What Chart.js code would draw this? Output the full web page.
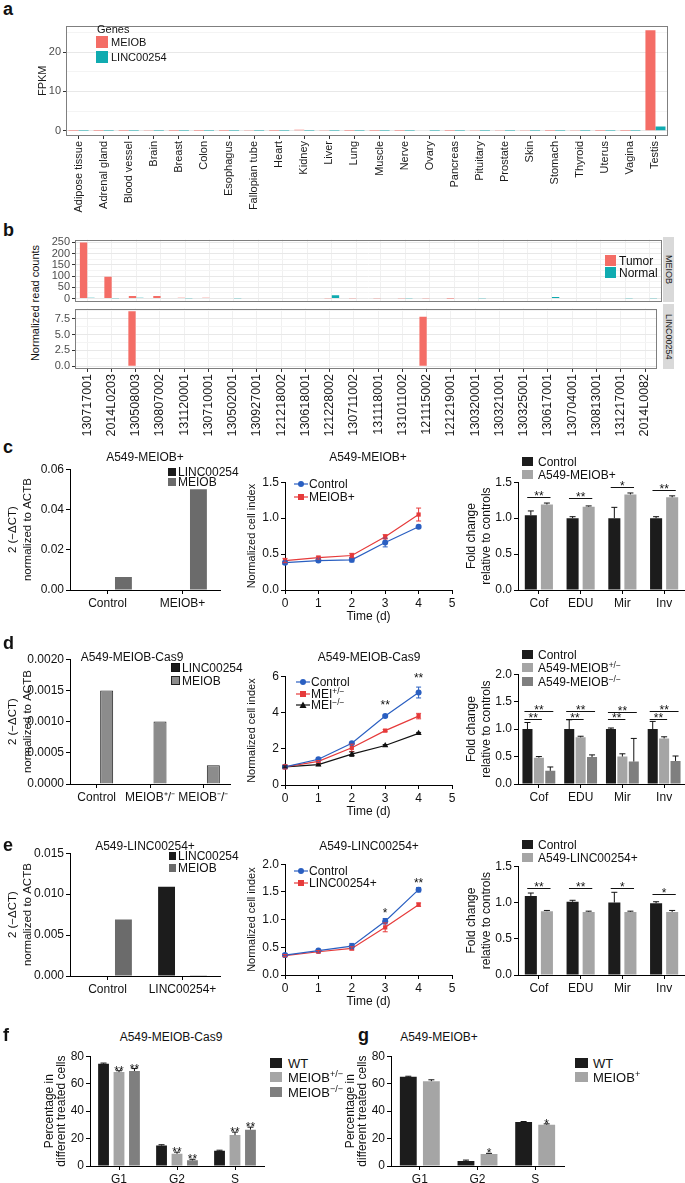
<!DOCTYPE html>
<html>
<head>
<meta charset="utf-8">
<title>MEIOB / LINC00254</title>
<script src="https://cdn.jsdelivr.net/npm/chart.js@4.4.1/dist/chart.umd.min.js"></script>
<style>
  html, body { margin: 0; padding: 0; background: #fff; }
  #fig { position: relative; width: 685px; height: 1183px; overflow: hidden; color: #111;
         font-family: "Liberation Sans Narrow", "Liberation Sans", Arial, sans-serif; }
  #fig canvas { position: absolute; }
  .lab { position: absolute; white-space: nowrap; line-height: 1; }
  .lab sup { font-size: 70%; vertical-align: 0.45em; line-height: 0; }
  .sw { position: absolute; box-sizing: border-box; }
  .strip { position: absolute; background: #d9d9d9; display: flex; align-items: center; justify-content: center;
           writing-mode: vertical-rl; font: 9px "Liberation Sans", Arial, sans-serif; color: #1a1a1a; }
</style>
</head>
<body>
<div id="fig"></div>
<script>
// ---- data ---------------------------------------------------------------
// a: expression across tissues
const tissues = ['Adipose tissue', 'Adrenal gland', 'Blood vessel', 'Brain', 'Breast', 'Colon', 'Esophagus',
  'Fallopian tube', 'Heart', 'Kidney', 'Liver', 'Lung', 'Muscle', 'Nerve', 'Ovary', 'Pancreas', 'Pituitary',
  'Prostate', 'Skin', 'Stomach', 'Thyroid', 'Uterus', 'Vagina', 'Testis'];
const fpkmMEIOB = [0.05, 0.05, 0.04, 0.2, 0.05, 0.05, 0.04, 0.1, 0.05, 0.3, 0.12, 0.05, 0.04, 0.05, 0.18, 0.04,
  0.22, 0.1, 0.2, 0.04, 0.08, 0.05, 0.05, 25.5];
const fpkmLINC = [0.02, 0.02, 0.02, 0.03, 0.02, 0.02, 0.02, 0.03, 0.02, 0.03, 0.02, 0.02, 0.02, 0.02, 0.03, 0.02,
  0.03, 0.02, 0.02, 0.02, 0.02, 0.02, 0.02, 1.1];
const aTicks = [0, 5, 10, 15, 20, 25];

// b: read counts per patient sample
const samples = ['130717001', '2014L0203', '130508003', '130807002', '131120001', '130710001', '130502001',
  '130927001', '121218002', '130618001', '121228002', '130711002', '131118001', '131011002', '121115002',
  '121219001', '130320001', '130321001', '130325001', '130617001', '130704001', '130813001', '131217001', '2014L0082'];
const meiobTumor = [250, 97, 11, 11, 4, 4, 3, 3, 3, 3, 2, 1, 1, 1, 1, 0.5, 0, 0, 0, 0, 0, 0, 0, 0];
const meiobNormal = [4, 1, 4, 0, 2, 0, 2, 0, 3, 3, 15, 0, 0, 2, 3, 3, 2, 0, 0, 7, 0, 0, 1, 1];
const lincTumor = [0, 0, 8.65, 0, 0, 0, 0, 0, 0, 0, 0, 0, 0, 0, 7.8, 0, 0, 0, 0, 0, 0, 0, 0, 0];
const lincNormal = [0, 0, 0, 0, 0, 0, 0, 0, 0, 0, 0, 0, 0, 0, 0, 0, 0, 0, 0, 0, 0, 0, 0, 0];
const bUpperTicks = [0, 25, 50, 75, 100, 125, 150, 175, 200, 225, 250];
const bLowerTicks = [0, 1.25, 2.5, 3.75, 5, 6.25, 7.5, 8.75];

// c-e shared
const days = [0, 1, 2, 3, 4];
const assays = ['Cof', 'EDU', 'Mir', 'Inv'];

// c: A549-MEIOB+
const cQpcrCats = ['Control', 'MEIOB+'];
const cQpcrLINC = [0, 0];
const cQpcrMEIOB = [0.0065, 0.05];
const cCtrl = [0.38, 0.41, 0.42, 0.66, 0.88];
const cCtrlErr = [0.02, 0.02, 0.03, 0.06, 0.02];
const cMeiob = [0.41, 0.45, 0.48, 0.74, 1.05];
const cMeiobErr = [0.03, 0.02, 0.03, 0.03, 0.09];
const cFoldCtrl = [1.04, 1.0, 1.0, 1.0];
const cFoldCtrlErr = [0.06, 0.02, 0.15, 0.02];
const cFoldMeiob = [1.19, 1.16, 1.33, 1.29];
const cFoldMeiobErr = [0.02, 0.01, 0.02, 0.02];
const cSigText = ['**', '**', '*', '**'];
const cSigY = [1.3, 1.28, 1.43, 1.39];

// d: A549-MEIOB-Cas9
const dQpcrCats = ['Control', 'MEIOB\u207A/\u207B', 'MEIOB\u207B/\u207B'];
const dQpcrLINC = [0, 0, 0];
const dQpcrMEIOB = [0.0015, 0.0010, 0.0003];
const dCtrl = [1.0, 1.42, 2.3, 3.8, 5.1];
const dCtrlErr = [0.05, 0.05, 0.05, 0.06, 0.3];
const dHet = [1.0, 1.3, 2.05, 3.0, 3.8];
const dHetErr = [0.12, 0.05, 0.2, 0.06, 0.15];
const dKo = [1.0, 1.12, 1.7, 2.18, 2.85];
const dKoErr = [0.05, 0.05, 0.12, 0.05, 0.05];
const dStarDays = [3, 4];
const dStarY = [4.4, 5.9];
const dStarText = ['**', '**'];
const dFoldCtrl = [1.0, 1.0, 1.0, 1.0];
const dFoldCtrlErr = [0.12, 0.17, 0.02, 0.14];
const dFoldHet = [0.48, 0.85, 0.5, 0.83];
const dFoldHetErr = [0.02, 0.02, 0.05, 0.03];
const dFoldKo = [0.24, 0.49, 0.41, 0.42];
const dFoldKoErr = [0.07, 0.04, 0.42, 0.09];
const dSigHiY = [1.33, 1.33, 1.32, 1.33];
const dSigLoY = [1.18, 1.18, 1.18, 1.18];

// e: A549-LINC00254+
const eQpcrCats = ['Control', 'LINC00254+'];
const eQpcrLINC = [0, 0.0109];
const eQpcrMEIOB = [0.0069, 0.0001];
const eCtrl = [0.36, 0.44, 0.52, 0.97, 1.54];
const eCtrlErr = [0.02, 0.02, 0.05, 0.05, 0.04];
const eLinc = [0.35, 0.42, 0.48, 0.86, 1.27];
const eLincErr = [0.02, 0.02, 0.03, 0.08, 0.03];
const eStarDays = [3, 4];
const eStarY = [1.12, 1.66];
const eStarText = ['*', '**'];
const eFoldCtrl = [1.09, 1.01, 1.0, 0.99];
const eFoldCtrlErr = [0.04, 0.02, 0.14, 0.02];
const eFoldLinc = [0.88, 0.87, 0.87, 0.87];
const eFoldLincErr = [0.01, 0.01, 0.01, 0.02];
const eSigText = ['**', '**', '*', '*'];
const eSigY = [1.2, 1.2, 1.2, 1.12];

// f, g: cell cycle
const phases = ['G1', 'G2', 'S'];
const fWT = [74.5, 14.9, 11.2];
const fWTErr = [0.5, 0.6, 0.3];
const fHet = [68.4, 8.9, 22.5];
const fHetErr = [1.0, 1.2, 2.2];
const fKo = [69.2, 4.1, 26.5];
const fKoErr = [1.8, 0.8, 1.8];
const fHetStars = ['**', '**', '**'];
const fKoStars = ['**', '**', '**'];
const gWT = [65, 3.6, 32.1];
const gWTErr = [0.4, 0.7, 0.3];
const gPlus = [61.8, 8.8, 30.1];
const gPlusErr = [1.0, 0.4, 0.6];
const gPlusStars = ['', '*', '*'];

// ---- style --------------------------------------------------------------
const NARROW = '"Liberation Sans Narrow", "Liberation Sans", Arial, sans-serif';
const SANS = '"Liberation Sans", Arial, sans-serif';
const RED = '#f46d66', TEAL = '#10abb0';
const BLUE = '#2a5fc1', REDL = '#e63a3a';
const BLACK = '#1c1c1c', GREY_D = '#6b6b6b', GREY_L = '#a5a5a5', GREY_M = '#7f7f7f', GREY_Q = '#8c8c8c';

Chart.defaults.animation = false;
Chart.defaults.responsive = false;
Chart.defaults.devicePixelRatio = 1;
Chart.defaults.plugins.legend.display = false;
Chart.defaults.plugins.tooltip.enabled = false;
Chart.defaults.font.family = NARROW;
Chart.defaults.color = '#111';

// error bars + stars over single marks
const errBars = {
    id: 'errBars',
    afterDatasetsDraw(chart) {
        const ctx = chart.ctx, ys = chart.scales.y;
        chart.data.datasets.forEach((ds, i) => {
            if (!ds.errs && !ds.stars) return;
            const meta = chart.getDatasetMeta(i);
            ctx.save();
            meta.data.forEach((el, j) => {
                const d = ds.data[j];
                const v = typeof d === 'object' ? d.y : d;
                const e = ds.errs ? ds.errs[j] : 0;
                const top = ys.getPixelForValue(v + e);
                const bot = ds.errBoth ? ys.getPixelForValue(v - e) : ys.getPixelForValue(v);
                const cap = ds.cap || 3;
                if (e > 0) {
                    ctx.strokeStyle = ds.errColor || '#111';
                    ctx.lineWidth = 1;
                    ctx.beginPath();
                    ctx.moveTo(el.x, bot); ctx.lineTo(el.x, top);
                    ctx.moveTo(el.x - cap, top); ctx.lineTo(el.x + cap, top);
                    if (ds.errBoth) { ctx.moveTo(el.x - cap, bot); ctx.lineTo(el.x + cap, bot); }
                    ctx.stroke();
                }
                if (ds.stars && ds.stars[j]) {
                    ctx.fillStyle = '#111';
                    ctx.font = '12px ' + SANS;
                    ctx.textAlign = 'center';
                    ctx.textBaseline = 'alphabetic';
                    ctx.fillText(ds.stars[j], el.x, top + 4);
                }
            });
            ctx.restore();
        });
    }
};
Chart.register(errBars);

// significance bar between two grouped bars
function sigLines(items) {
    return {
        id: 'sig',
        afterDatasetsDraw(chart) {
            const ctx = chart.ctx, ys = chart.scales.y;
            ctx.save();
            ctx.strokeStyle = '#111';
            ctx.fillStyle = '#111';
            ctx.lineWidth = 1;
            ctx.font = '12px ' + SANS;
            ctx.textAlign = 'center';
            items.forEach(s => {
                const a = chart.getDatasetMeta(s.a).data[s.i];
                const b = chart.getDatasetMeta(s.b).data[s.i];
                const y = Math.round(ys.getPixelForValue(s.y)) + 0.5;
                ctx.beginPath();
                ctx.moveTo(a.x - a.width * 0.3, y);
                ctx.lineTo(b.x + b.width * 0.3, y);
                ctx.stroke();
                ctx.fillText(s.t, (a.x + b.x) / 2, y + 2);
            });
            ctx.restore();
        }
    };
}

// star notes at data positions on the growth curves
function notes(xs, ys, ts) {
    return {
        id: 'notes',
        afterDatasetsDraw(chart) {
            const ctx = chart.ctx;
            ctx.save();
            ctx.fillStyle = '#111';
            ctx.font = '12px ' + SANS;
            ctx.textAlign = 'center';
            xs.forEach((x, i) => {
                ctx.fillText(ts[i], chart.scales.x.getPixelForValue(x), chart.scales.y.getPixelForValue(ys[i]) + 4);
            });
            ctx.restore();
        }
    };
}

// ggplot-like panel border
const panelBox = {
    id: 'panelBox',
    afterDraw(chart) {
        const {left, top, right, bottom} = chart.chartArea;
        const ctx = chart.ctx;
        ctx.save();
        ctx.strokeStyle = '#7f7f7f';
        ctx.lineWidth = 1;
        ctx.strokeRect(Math.round(left) + 0.5, Math.round(top) + 0.5, Math.round(right - left) - 1, Math.round(bottom - top) - 1);
        ctx.restore();
    }
};

const fig = document.getElementById('fig');

function mk(L, config) {
    const c = document.createElement('canvas');
    const w = L.x1 - L.x0 + L.yW + L.pr;
    const h = L.y1 - L.y0 + L.pt + L.xH;
    c.width = w; c.height = h;
    Object.assign(c.style, {left: (L.x0 - L.yW) + 'px', top: (L.y0 - L.pt) + 'px', width: w + 'px', height: h + 'px'});
    fig.appendChild(c);
    const o = config.options;
    o.layout = {padding: {top: L.pt, right: L.pr, bottom: 0, left: 0}};
    o.scales.x.afterFit = s => { s.height = L.xH; };
    o.scales.y.afterFit = s => { s.width = L.yW; };
    return new Chart(c, config);
}

function ggX(show, vgrid, size) {
    return {
        border: {display: false},
        grid: {display: true, drawOnChartArea: !!vgrid, drawTicks: show, tickLength: 3, color: '#f0f0f0', tickColor: '#333', offset: false},
        ticks: {display: show, autoSkip: false, minRotation: 90, maxRotation: 90, padding: 2, color: '#1a1a1a',
                font: {family: SANS, size: size || 11}}
    };
}

// ticks are given explicitly; every other one is a labelled major break
function ggY(min, max, tickValues, every, dec, title) {
    const major = v => Math.abs(v / every - Math.round(v / every)) < 1e-6;
    return {
        min, max,
        afterBuildTicks: s => { s.ticks = tickValues.map(v => ({value: v})); },
        border: {display: false},
        grid: {color: c => major(c.tick.value) ? '#e8e8e8' : '#f4f4f4',
               tickColor: c => major(c.tick.value) ? '#333' : 'rgba(0,0,0,0)', tickLength: 3},
        ticks: {autoSkip: false, padding: 2, color: '#4d4d4d',
                font: {family: SANS, size: 11}, callback: v => major(v) ? v.toFixed(dec) : ''},
        title: title ? {display: true, text: title, color: '#1a1a1a', font: {family: SANS, size: 11}, padding: {top: 6.5, bottom: 0}} : {display: false}
    };
}

function prismY(min, max, step, dec, title, o) {
    o = o || {};
    return {
        min, max,
        border: {display: true, color: '#000', width: 1},
        grid: {drawOnChartArea: false, drawTicks: true, tickLength: 4, color: '#000'},
        ticks: {stepSize: step, includeBounds: false, autoSkip: false, padding: 2, color: '#111',
                font: {family: NARROW, size: 12}, callback: v => v.toFixed(dec)},
        title: {display: true, text: title, color: '#111', font: {family: SANS, size: o.size || 11, lineHeight: o.lh || 1.2},
                padding: {top: o.pad || 0, bottom: 0}}
    };
}

function prismCat() {
    return {
        border: {display: true, color: '#000', width: 1},
        grid: {drawOnChartArea: false, drawTicks: true, tickLength: 4, color: '#000', offset: false},
        ticks: {autoSkip: false, maxRotation: 0, padding: 2, color: '#111', font: {family: NARROW, size: 12}}
    };
}

function prismTime() {
    return {
        type: 'linear', min: 0, max: 5,
        border: {display: true, color: '#000', width: 1},
        grid: {drawOnChartArea: false, drawTicks: true, tickLength: 4, color: '#000'},
        ticks: {stepSize: 1, includeBounds: false, padding: 2, color: '#111', font: {family: NARROW, size: 12}, callback: v => v.toFixed(0)},
        title: {display: true, text: 'Time (d)', color: '#111', font: {family: NARROW, size: 12}, padding: {top: 0, bottom: 2}}
    };
}

function bar(label, data, color, errs, extra) {
    return Object.assign({label, data, backgroundColor: color, borderWidth: 0, errs, cap: 3}, extra || {});
}

function curve(label, ys, errs, color, style) {
    return {
        label, data: days.map((d, i) => ({x: d, y: ys[i]})), errs, errBoth: true, errColor: color, cap: 2.5,
        borderColor: color, backgroundColor: color, borderWidth: 1.2, pointStyle: style,
        pointRadius: style === 'triangle' ? 3.5 : 3, pointBorderWidth: 0, clip: false
    };
}

const QPCR_TITLE = ['2 (\u2212\u0394CT)', 'normalized to ACTB'];
const FOLD_TITLE = ['Fold change', 'relative to controls'];
const PCT_TITLE = ['Percentage in', 'different treated cells'];

// ---- a ------------------------------------------------------------------
mk({x0: 66, x1: 668, y0: 21, y1: 136, yW: 36, xH: 80, pt: 4, pr: 4}, {
    type: 'bar',
    data: {labels: tissues, datasets: [
        bar('MEIOB', fpkmMEIOB, RED),
        bar('LINC00254', fpkmLINC, TEAL)]},
    options: {
        datasets: {bar: {categoryPercentage: 0.8, barPercentage: 1}},
        scales: {x: ggX(true, false), y: ggY(-1.3, 26.7, aTicks, 10, 0, 'FPKM')}
    },
    plugins: [panelBox]
});

// ---- b ------------------------------------------------------------------
mk({x0: 75, x1: 662, y0: 237, y1: 302, yW: 25, xH: 8, pt: 6, pr: 0}, {
    type: 'bar',
    data: {labels: samples, datasets: [
        bar('Tumor', meiobTumor, RED),
        bar('Normal', meiobNormal, TEAL)]},
    options: {
        datasets: {bar: {categoryPercentage: 0.6, barPercentage: 1}},
        scales: {x: ggX(false, true), y: ggY(-12.5, 262.5, bUpperTicks, 50, 0)}
    },
    plugins: [panelBox]
});
mk({x0: 75, x1: 662, y0: 304, y1: 369, yW: 25, xH: 72, pt: 4, pr: 0}, {
    type: 'bar',
    data: {labels: samples, datasets: [
        bar('Tumor', lincTumor, RED),
        bar('Normal', lincNormal, TEAL)]},
    options: {
        datasets: {bar: {categoryPercentage: 0.6, barPercentage: 1}},
        scales: {x: ggX(true, true, 12.5), y: ggY(-0.43, 9.08, bLowerTicks, 2.5, 1)}
    },
    plugins: [panelBox]
});

// ---- c ------------------------------------------------------------------
mk({x0: 70, x1: 220, y0: 468, y1: 590, yW: 70, xH: 22, pt: 8, pr: 4}, {
    type: 'bar',
    data: {labels: cQpcrCats, datasets: [
        bar('LINC00254', cQpcrLINC, BLACK),
        bar('MEIOB', cQpcrMEIOB, GREY_D)]},
    options: {
        datasets: {bar: {categoryPercentage: 0.85, barPercentage: 0.53}},
        scales: {x: prismCat(), y: prismY(0, 0.06, 0.02, 2, QPCR_TITLE, {pad: 5.5, size: 11.5, lh: 1.3})}
    }
});
mk({x0: 285, x1: 452, y0: 481, y1: 590, yW: 43, xH: 36, pt: 8, pr: 8}, {
    type: 'line',
    data: {datasets: [
        curve('Control', cCtrl, cCtrlErr, BLUE, 'circle'),
        curve('MEIOB+', cMeiob, cMeiobErr, REDL, 'rect')]},
    options: {scales: {x: prismTime(), y: prismY(0, 1.5, 0.5, 1, 'Normalized cell index', {pad: 3.5, size: 11})}}
});
mk({x0: 518, x1: 685, y0: 481, y1: 590, yW: 56, xH: 22, pt: 8, pr: 0}, {
    type: 'bar',
    data: {labels: assays, datasets: [
        bar('Control', cFoldCtrl, BLACK, cFoldCtrlErr),
        bar('A549-MEIOB+', cFoldMeiob, GREY_L, cFoldMeiobErr)]},
    options: {
        datasets: {bar: {categoryPercentage: 0.77, barPercentage: 0.75}},
        scales: {x: prismCat(), y: prismY(0, 1.5, 0.5, 1, FOLD_TITLE, {pad: 2.5, size: 12, lh: 1.25})}
    },
    plugins: [sigLines(assays.map((_, i) => ({i, a: 0, b: 1, t: cSigText[i], y: cSigY[i]})))]
});

// ---- d ------------------------------------------------------------------
mk({x0: 70, x1: 230, y0: 658, y1: 784, yW: 70, xH: 22, pt: 8, pr: 4}, {
    type: 'bar',
    data: {labels: dQpcrCats, datasets: [
        bar('LINC00254', dQpcrLINC, BLACK),
        bar('MEIOB', dQpcrMEIOB, GREY_Q, null, {borderWidth: 1, borderColor: '#222'})]},
    options: {
        datasets: {bar: {categoryPercentage: 0.75, barPercentage: 0.65}},
        scales: {x: prismCat(), y: prismY(0, 0.002, 0.0005, 4, QPCR_TITLE, {pad: 5.5, size: 11.5, lh: 1.3})}
    }
});
mk({x0: 285, x1: 452, y0: 675, y1: 785, yW: 43, xH: 36, pt: 8, pr: 8}, {
    type: 'line',
    data: {datasets: [
        curve('Control', dCtrl, dCtrlErr, BLUE, 'circle'),
        curve('MEI+/\u2212', dHet, dHetErr, REDL, 'rect'),
        curve('MEI\u2212/\u2212', dKo, dKoErr, '#111', 'triangle')]},
    options: {scales: {x: prismTime(), y: prismY(0, 6, 2, 0, 'Normalized cell index', {pad: 3.5, size: 11})}},
    plugins: [notes(dStarDays, dStarY, dStarText)]
});
mk({x0: 518, x1: 685, y0: 673, y1: 784, yW: 56, xH: 22, pt: 8, pr: 0}, {
    type: 'bar',
    data: {labels: assays, datasets: [
        bar('Control', dFoldCtrl, BLACK, dFoldCtrlErr),
        bar('A549-MEIOB+/\u2212', dFoldHet, GREY_L, dFoldHetErr),
        bar('A549-MEIOB\u2212/\u2212', dFoldKo, GREY_M, dFoldKoErr)]},
    options: {
        datasets: {bar: {categoryPercentage: 0.82, barPercentage: 0.88}},
        scales: {x: prismCat(), y: prismY(0, 2, 0.5, 1, FOLD_TITLE, {pad: 2.5, size: 12, lh: 1.25})}
    },
    plugins: [sigLines(assays.map((_, i) => ({i, a: 0, b: 2, t: '**', y: dSigHiY[i]}))
        .concat(assays.map((_, i) => ({i, a: 0, b: 1, t: '**', y: dSigLoY[i]}))))]
});

// ---- e ------------------------------------------------------------------
mk({x0: 70, x1: 220, y0: 852, y1: 976, yW: 70, xH: 22, pt: 8, pr: 4}, {
    type: 'bar',
    data: {labels: eQpcrCats, datasets: [
        bar('LINC00254', eQpcrLINC, BLACK),
        bar('MEIOB', eQpcrMEIOB, GREY_D)]},
    options: {
        datasets: {bar: {categoryPercentage: 0.85, barPercentage: 0.53}},
        scales: {x: prismCat(), y: prismY(0, 0.015, 0.005, 3, QPCR_TITLE, {pad: 5.5, size: 11.5, lh: 1.3})}
    }
});
mk({x0: 285, x1: 452, y0: 863, y1: 975, yW: 43, xH: 36, pt: 8, pr: 8}, {
    type: 'line',
    data: {datasets: [
        curve('Control', eCtrl, eCtrlErr, BLUE, 'circle'),
        curve('LINC00254+', eLinc, eLincErr, REDL, 'rect')]},
    options: {scales: {x: prismTime(), y: prismY(0, 2, 0.5, 1, 'Normalized cell index', {pad: 3.5, size: 11})}},
    plugins: [notes(eStarDays, eStarY, eStarText)]
});
mk({x0: 518, x1: 685, y0: 865, y1: 975, yW: 56, xH: 22, pt: 8, pr: 0}, {
    type: 'bar',
    data: {labels: assays, datasets: [
        bar('Control', eFoldCtrl, BLACK, eFoldCtrlErr),
        bar('A549-LINC00254+', eFoldLinc, GREY_L, eFoldLincErr)]},
    options: {
        datasets: {bar: {categoryPercentage: 0.77, barPercentage: 0.75}},
        scales: {x: prismCat(), y: prismY(0, 1.5, 0.5, 1, FOLD_TITLE, {pad: 2.5, size: 12, lh: 1.25})}
    },
    plugins: [sigLines(assays.map((_, i) => ({i, a: 0, b: 1, t: eSigText[i], y: eSigY[i]})))]
});

// ---- f, g ---------------------------------------------------------------
mk({x0: 90, x1: 264, y0: 1055, y1: 1166, yW: 50, xH: 17, pt: 8, pr: 4}, {
    type: 'bar',
    data: {labels: phases, datasets: [
        bar('WT', fWT, BLACK, fWTErr),
        bar('MEIOB+/\u2212', fHet, GREY_L, fHetErr, {stars: fHetStars}),
        bar('MEIOB\u2212/\u2212', fKo, GREY_M, fKoErr, {stars: fKoStars})]},
    options: {
        datasets: {bar: {categoryPercentage: 0.8, barPercentage: 0.7}},
        scales: {x: prismCat(), y: prismY(0, 80, 20, 0, PCT_TITLE, {pad: 4, size: 12, lh: 1.0})}
    }
});
mk({x0: 391, x1: 564, y0: 1055, y1: 1166, yW: 50, xH: 17, pt: 8, pr: 4}, {
    type: 'bar',
    data: {labels: phases, datasets: [
        bar('WT', gWT, BLACK, gWTErr),
        bar('MEIOB+', gPlus, GREY_L, gPlusErr, {stars: gPlusStars})]},
    options: {
        datasets: {bar: {categoryPercentage: 0.8, barPercentage: 0.73}},
        scales: {x: prismCat(), y: prismY(0, 80, 20, 0, PCT_TITLE, {pad: 4, size: 12, lh: 1.0})}
    }
});

// ---- text: letters, titles, legends --------------------------------------
function lab(html, x, y, font, center, rot) {
    const d = document.createElement('div');
    d.className = 'lab';
    d.innerHTML = html;
    d.style.left = x + 'px';
    d.style.top = y + 'px';
    d.style.font = font;
    d.style.transform = (center ? 'translate(-50%,-50%)' : 'translateY(-50%)') + (rot ? ' rotate(-90deg)' : '');
    fig.appendChild(d);
}
function sw(x, y, w, h, color, border) {
    const d = document.createElement('div');
    d.className = 'sw';
    Object.assign(d.style, {left: x + 'px', top: y + 'px', width: w + 'px', height: h + 'px', background: color,
        border: border ? '1px solid ' + border : 'none'});
    fig.appendChild(d);
}
function lineKey(x, y, color, shape) {
    let m = '<circle cx="7" cy="4" r="3" fill="' + color + '"/>';
    if (shape === 'rect') m = '<rect x="4" y="1" width="6" height="6" fill="' + color + '"/>';
    if (shape === 'triangle') m = '<polygon points="7,0.5 10.5,7 3.5,7" fill="' + color + '"/>';
    fig.insertAdjacentHTML('beforeend', '<svg width="14" height="8" style="position:absolute;left:' + (x - 7) +
        'px;top:' + (y - 4) + 'px"><line x1="0" y1="4" x2="14" y2="4" stroke="' + color + '" stroke-width="1.2"/>' + m + '</svg>');
}
function strip(text, x, y, w, h) {
    const d = document.createElement('div');
    d.className = 'strip';
    d.textContent = text;
    Object.assign(d.style, {left: x + 'px', top: y + 'px', width: w + 'px', height: h + 'px'});
    fig.appendChild(d);
}

const LETTER = 'bold 18px ' + SANS;
[['a', 3, 9], ['b', 3, 230], ['c', 3, 447], ['d', 3, 643], ['e', 3, 845], ['f', 3, 1035], ['g', 358, 1035]]
    .forEach(l => lab(l[0], l[1], l[2], LETTER));

const TITLE = '12px ' + NARROW;
[['A549-MEIOB+', 145, 457], ['A549-MEIOB+', 368, 457], ['A549-MEIOB-Cas9', 132, 657], ['A549-MEIOB-Cas9', 369, 657],
 ['A549-LINC00254+', 145, 846], ['A549-LINC00254+', 369, 846], ['A549-MEIOB-Cas9', 171, 1037], ['A549-MEIOB+', 439, 1037]]
    .forEach(t => lab(t[0], t[1], t[2], TITLE, true));

// a legend
lab('Genes', 97, 29, '11px ' + SANS);
sw(96, 36, 12, 12, RED); lab('MEIOB', 111, 42, '11px ' + SANS);
sw(96, 51, 12, 12, TEAL); lab('LINC00254', 111, 57, '11px ' + SANS);

// b legend, strips, axis title
sw(605, 255, 11, 11, RED); lab('Tumor', 619, 261, '12px ' + NARROW);
sw(605, 267, 11, 11, TEAL); lab('Normal', 619, 273, '12px ' + NARROW);
strip('MEIOB', 663, 237, 11, 65);
strip('LINC00254', 663, 304, 11, 65);
lab('Normalized read counts', 35, 303, '11px ' + SANS, true, true);

const LEG = '12px ' + NARROW;
// c legends
sw(168, 468, 8, 8, BLACK); lab('LINC00254', 178, 472, LEG);
sw(168, 478, 8, 8, GREY_D); lab('MEIOB', 178, 482, LEG);
lineKey(301, 484, BLUE, 'circle'); lab('Control', 309, 484, LEG);
lineKey(301, 497, REDL, 'rect'); lab('MEIOB+', 309, 497, LEG);
sw(522, 457, 11, 9, BLACK); lab('Control', 538, 462, LEG);
sw(522, 470, 11, 9, GREY_L); lab('A549-MEIOB+', 538, 475, LEG);

// d legends
sw(171, 663, 9, 9, BLACK, '#111'); lab('LINC00254', 182, 668, LEG);
sw(171, 676, 9, 9, GREY_Q, '#222'); lab('MEIOB', 182, 681, LEG);
lineKey(303, 682, BLUE, 'circle'); lab('Control', 311, 682, LEG);
lineKey(303, 693.5, REDL, 'rect'); lab('MEI<sup>+/\u2212</sup>', 311, 694, LEG);
lineKey(303, 705, '#111', 'triangle'); lab('MEI<sup>\u2212/\u2212</sup>', 311, 705, LEG);
sw(522, 650, 11, 9, BLACK); lab('Control', 538, 655, LEG);
sw(522, 663, 11, 9, GREY_L); lab('A549-MEIOB<sup>+/\u2212</sup>', 538, 668, LEG);
sw(522, 677, 11, 9, GREY_M); lab('A549-MEIOB<sup>\u2212/\u2212</sup>', 538, 682, LEG);

// e legends
sw(169, 852, 7, 8, BLACK); lab('LINC00254', 178, 856, LEG);
sw(169, 864, 7, 8, GREY_D); lab('MEIOB', 178, 868, LEG);
lineKey(301, 871, BLUE, 'circle'); lab('Control', 309, 871, LEG);
lineKey(301, 883, REDL, 'rect'); lab('LINC00254+', 309, 883, LEG);
sw(522, 840, 11, 9, BLACK); lab('Control', 538, 845, LEG);
sw(522, 853, 11, 9, GREY_L); lab('A549-LINC00254+', 538, 858, LEG);

// f, g legends
const LEG13 = '13px ' + NARROW;
sw(270, 1058, 12, 10, BLACK); lab('WT', 288, 1063, LEG13);
sw(270, 1072, 12, 10, GREY_L); lab('MEIOB<sup>+/\u2212</sup>', 288, 1077, LEG13);
sw(270, 1087, 12, 10, GREY_M); lab('MEIOB<sup>\u2212/\u2212</sup>', 288, 1092, LEG13);
sw(575, 1058, 13, 10, BLACK); lab('WT', 593, 1063, LEG13);
sw(575, 1072, 13, 10, GREY_L); lab('MEIOB<sup>+</sup>', 593, 1077, LEG13);
</script>
</body>
</html>
